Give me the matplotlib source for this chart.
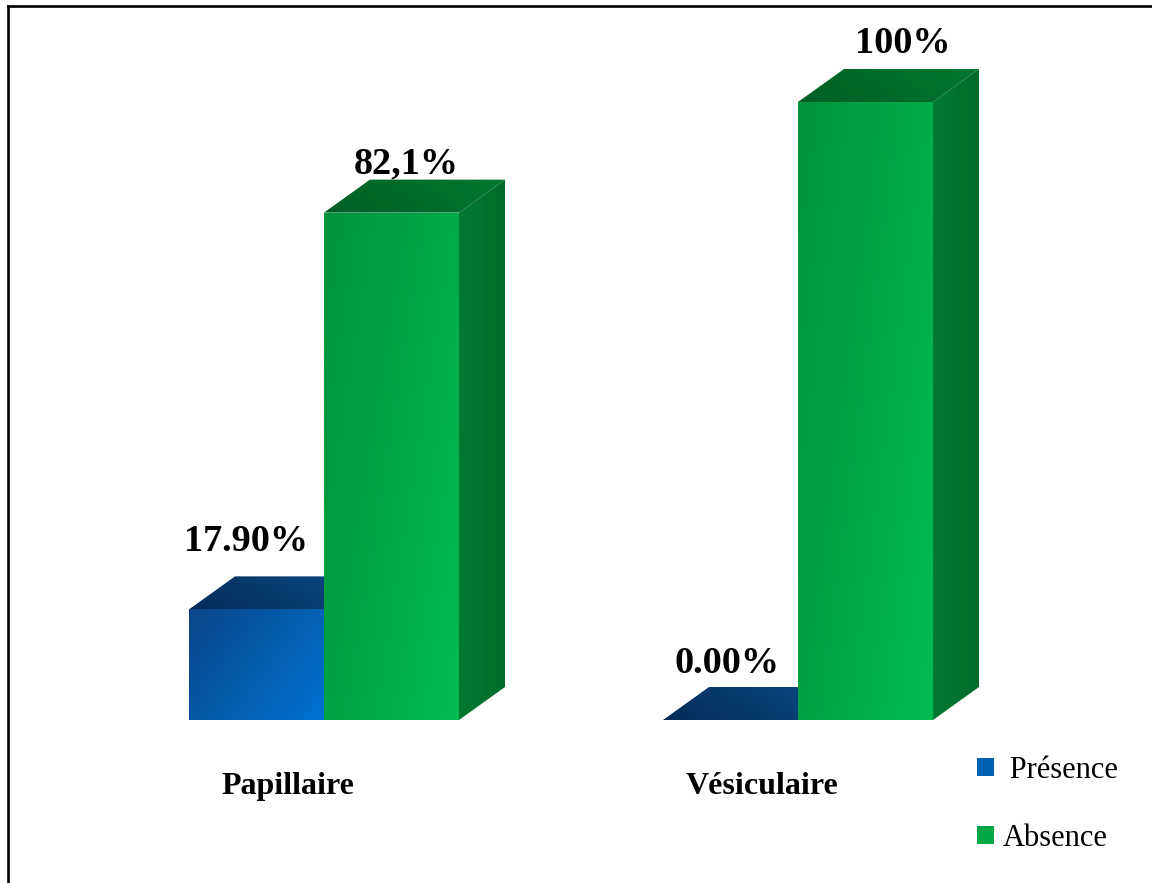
import numpy as np
import matplotlib.pyplot as plt
from matplotlib.patches import Polygon, Patch
from matplotlib.lines import Line2D
from matplotlib.colors import LinearSegmentedColormap

categories = ["Papillaire", "Vésiculaire"]
presence = [17.9, 0.0]
absence = [82.1, 100.0]
presence_labels = ["17.90%", "0.00%"]
absence_labels = ["82,1%", "100%"]
series_names = [" Présence", "Absence"]

W, H, DPI = 1152, 883, 100
GROUP_PX = 474          # distance between the two categories
BAR_W = 135 / GROUP_PX  # bar width in category units
DEPTH_PX = (46, 33)     # oblique depth of the boxes

# colour pairs for gradients: (start, end)
BLUE_FRONT = ("#0a4688", "#0072d2")
BLUE_TOP = ("#052b57", "#0b4b88")
BLUE_SIDE = ("#063a70", "#063a70")
GREEN_FRONT = ("#00933c", "#00bc50")
GREEN_TOP = ("#005f25", "#00782f")
GREEN_SIDE = ("#007a31", "#006c2b")

plt.rcParams["font.family"] = ["Liberation Serif", "DejaVu Serif"]

fig = plt.figure(figsize=(W / DPI, H / DPI), dpi=DPI)
ax = fig.add_axes([0, 0, 1, 1])
ppu = (720 - 102) / 100  # pixels per percent
ax.set_ylim(-(H - 720) / ppu, 720 / ppu)
ax.set_xlim(-324 / GROUP_PX, (W - 324) / GROUP_PX)
ax.axis("off")

inv = ax.transData.inverted()
o = inv.transform((0, 0))
d = inv.transform(DEPTH_PX)
DX, DY = d[0] - o[0], d[1] - o[1]


def gradient_fill(verts, colors, direction, z):
    poly = Polygon(verts, closed=True, facecolor="none", edgecolor="none", zorder=z)
    ax.add_patch(poly)
    xs, ys = zip(*verts)
    if max(ys) - min(ys) <= 0:
        return
    u = np.linspace(0, 1, 64)
    X, Y = np.meshgrid(u, u)
    t = X * direction[0] + Y * direction[1]
    t = (t - t.min()) / (t.max() - t.min() + 1e-9)
    cmap = LinearSegmentedColormap.from_list("g", list(colors))
    im = ax.imshow(t, cmap=cmap, extent=(min(xs), max(xs), min(ys), max(ys)),
                   origin="lower", aspect="auto", interpolation="bilinear", zorder=z)
    im.set_clip_path(poly)


def draw_box(x0, h, front, top, side, z):
    x1 = x0 + BAR_W
    gradient_fill([(x1, 0), (x1 + DX, DY), (x1 + DX, h + DY), (x1, h)], side, (1, 0), z)
    gradient_fill([(x0, h), (x1, h), (x1 + DX, h + DY), (x0 + DX, h + DY)], top, (1, 0.3), z)
    gradient_fill([(x0, 0), (x1, 0), (x1, h), (x0, h)], front, (1, -0.6), z)


for i in range(len(categories)):
    draw_box(i - BAR_W, presence[i], BLUE_FRONT, BLUE_TOP, BLUE_SIDE, 2 + 2 * i)
    draw_box(i, absence[i], GREEN_FRONT, GREEN_TOP, GREEN_SIDE, 3 + 2 * i)

ax.set_xlim(-324 / GROUP_PX, (W - 324) / GROUP_PX)
ax.set_ylim(-(H - 720) / ppu, 720 / ppu)

# value labels (offsets in pixels from the top centre of each front face)
presence_offsets = [(-10, 58), (-3, 47)]
absence_offsets = [(15, 39), (37, 49)]
for i in range(len(categories)):
    ax.annotate(presence_labels[i], (i - BAR_W / 2, presence[i]),
                xytext=presence_offsets[i], textcoords="offset pixels",
                ha="center", va="baseline", fontsize=27.5, fontweight="bold", zorder=10)
    ax.annotate(absence_labels[i], (i + BAR_W / 2, absence[i]),
                xytext=absence_offsets[i], textcoords="offset pixels",
                ha="center", va="baseline", fontsize=27.5, fontweight="bold", zorder=10)
    ax.annotate(categories[i], (i, 0), xytext=(-36, -74), textcoords="offset pixels",
                ha="center", va="baseline", fontsize=23, fontweight="bold")

handles = [Patch(facecolor="#0061b4"), Patch(facecolor="#00a846")]
fig.legend(handles, series_names, loc="upper left",
           bbox_to_anchor=(977 / W, 1 - 756 / H), frameon=False, fontsize=22,
           handlelength=0.55, handleheight=0.55, handletextpad=0.28,
           labelspacing=1.27, borderpad=0, borderaxespad=0)

# frame on the left and top edges
fig.add_artist(Line2D([7.5 / W, 7.5 / W], [0, 1 - 6 / H], color="black", lw=1.9,
                      transform=fig.transFigure))
fig.add_artist(Line2D([7.5 / W, 1], [1 - 6 / H, 1 - 6 / H], color="black", lw=1.9,
                      transform=fig.transFigure))

fig.savefig("out.png", dpi=DPI)
